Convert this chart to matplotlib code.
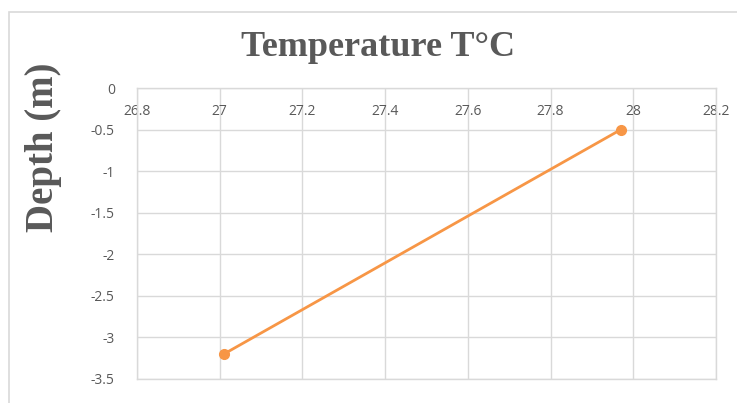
import matplotlib
matplotlib.use("Agg")
import matplotlib.pyplot as plt
from matplotlib.patches import Rectangle

# du lieu doc tu hinh
temperature = [27.01, 27.97]
depth = [-3.2, -0.5]
x_ticks = [26.8, 27.0, 27.2, 27.4, 27.6, 27.8, 28.0, 28.2]
x_labels = ["26.8", "27", "27.2", "27.4", "27.6", "27.8", "28", "28.2"]
y_ticks = [0, -0.5, -1, -1.5, -2, -2.5, -3, -3.5]
y_labels = ["0", "-0.5", "-1", "-1.5", "-2", "-2.5", "-3", "-3.5"]

ORANGE = "#F79646"
GRID = "#D9D9D9"
TEXT = "#595959"

fig = plt.figure(figsize=(7.37, 4.03), dpi=100)
fig.patches.append(Rectangle((9 / 737, -0.05), 1.2, 1 - 12 / 403 + 0.05,
                             transform=fig.transFigure, fill=False,
                             edgecolor=GRID, linewidth=1.2))

ax = fig.add_axes([137 / 737, 1 - 379 / 403, (716 - 137) / 737, (379 - 88) / 403])
ax.plot(temperature, depth, color=ORANGE, linewidth=2, marker="o", markersize=7)

ax.set_xlim(26.8, 28.2)
ax.set_ylim(-3.5, 0)
ax.set_xticks(x_ticks, x_labels)
ax.set_yticks(y_ticks, y_labels)
ax.grid(True, color=GRID, linewidth=1)
ax.set_axisbelow(True)
for s in ax.spines.values():
    s.set_color(GRID)
    s.set_linewidth(1)

ax.tick_params(axis="x", top=True, labeltop=True, bottom=False, labelbottom=False,
               length=0, pad=-22, labelsize=10, labelcolor=TEXT)
ax.tick_params(axis="y", length=0, pad=16, labelsize=10, labelcolor=TEXT)
for lbl in ax.get_xticklabels() + ax.get_yticklabels():
    lbl.set_family("Open Sans")

fig.text(378 / 737, 1 - 47 / 403, "Temperature T°C", ha="center", va="center",
         family="Liberation Serif", fontweight="bold", fontsize=26, color=TEXT)
fig.text(43 / 737, 1 - 147 / 403, "Depth (m)", ha="center", va="center", rotation=90,
         family="Liberation Serif", fontweight="bold", fontsize=28, color=TEXT)

fig.savefig("out.png", dpi=100)
